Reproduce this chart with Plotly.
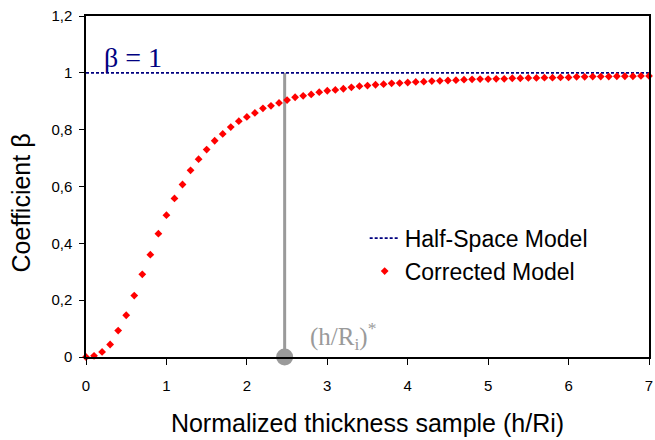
import plotly.graph_objects as go

# ---- data ----
h_ratio = [0.0, 0.1, 0.2, 0.3, 0.4, 0.5, 0.6, 0.7, 0.8, 0.9,
           1.0, 1.1, 1.2, 1.3, 1.4, 1.5, 1.6, 1.7, 1.8, 1.9,
           2.0, 2.1, 2.2, 2.3, 2.4, 2.5, 2.6, 2.7, 2.8, 2.9,
           3.0, 3.1, 3.2, 3.3, 3.4, 3.5, 3.6, 3.7, 3.8, 3.9,
           4.0, 4.1, 4.2, 4.3, 4.4, 4.5, 4.6, 4.7, 4.8, 4.9,
           5.0, 5.1, 5.2, 5.3, 5.4, 5.5, 5.6, 5.7, 5.8, 5.9,
           6.0, 6.1, 6.2, 6.3, 6.4, 6.5, 6.6, 6.7, 6.8, 6.9, 7.0]
beta_corrected = [0.000, 0.004, 0.018, 0.044, 0.093, 0.147, 0.216, 0.291, 0.360, 0.434,
                  0.499, 0.558, 0.607, 0.657, 0.696, 0.730, 0.761, 0.785, 0.809, 0.830,
                  0.845, 0.859, 0.875, 0.884, 0.894, 0.904, 0.914, 0.919, 0.924, 0.932,
                  0.937, 0.940, 0.944, 0.949, 0.953, 0.955, 0.958, 0.960, 0.963, 0.964,
                  0.966, 0.968, 0.969, 0.971, 0.972, 0.973, 0.974, 0.976, 0.977, 0.978,
                  0.978, 0.979, 0.979, 0.981, 0.981, 0.982, 0.982, 0.983, 0.983, 0.984,
                  0.984, 0.986, 0.986, 0.987, 0.987, 0.987, 0.988, 0.988, 0.988, 0.989, 0.989]
half_space_x = [0, 7]
half_space_y = [1, 1]
critical_x = [2.47, 2.47]
critical_y = [0, 1.0]

x_ticks = [0, 1, 2, 3, 4, 5, 6, 7]
x_ticklabels = ["0", "1", "2", "3", "4", "5", "6", "7"]
y_ticks = [0, 0.2, 0.4, 0.6, 0.8, 1.0, 1.2]
y_ticklabels = ["0", "0,2", "0,4", "0,6", "0,8", "1", "1,2"]

SANS = "Liberation Sans, Arial, sans-serif"
SERIF = "Liberation Serif, Times New Roman, serif"

fig = go.Figure()

# critical thickness marker (grey stem + dot)
fig.add_trace(go.Scatter(
    x=critical_x, y=critical_y, mode="lines",
    line=dict(color="#9a9a9a", width=3), showlegend=False, hoverinfo="skip"))
fig.add_trace(go.Scatter(
    x=critical_x[:1], y=critical_y[:1], mode="markers",
    marker=dict(color="#9a9a9a", size=17, symbol="circle"),
    showlegend=False, hoverinfo="skip", cliponaxis=False))

fig.add_trace(go.Scatter(
    x=half_space_x, y=half_space_y, mode="lines", name="Half-Space Model",
    line=dict(color="#000080", width=1.6, dash="3px,2px"),
    legendgroup="a"))
fig.add_trace(go.Scatter(
    x=h_ratio, y=beta_corrected, mode="markers", name="Corrected Model",
    marker=dict(color="#ff0000", size=6, symbol="diamond"),
    cliponaxis=False, legendgroup="b"))

fig.update_layout(
    width=655, height=440,
    margin=dict(l=86, r=2, t=16, b=83),
    plot_bgcolor="white", paper_bgcolor="white",
    font=dict(family=SANS, color="black", size=15),
    showlegend=True,
    legend=dict(x=0.495, y=0.30, xanchor="left", yanchor="middle",
                bgcolor="rgba(0,0,0,0)", font=dict(size=23, family=SANS),
                tracegroupgap=0, itemwidth=30),
    xaxis=dict(range=[0, 7], tickvals=x_ticks, ticktext=x_ticklabels,
               showgrid=False, zeroline=False, showline=True, linecolor="black",
               linewidth=1.5, mirror=True, ticks="outside", ticklen=6, tickwidth=1,
               tickcolor="black", ticklabelstandoff=8, ticklabeloverflow="allow",
               tickfont=dict(size=15, family=SANS),
               title=dict(text="Normalized thickness sample (h/Ri)",
                          font=dict(size=25, family=SANS), standoff=22)),
    yaxis=dict(range=[0, 1.2], tickvals=y_ticks, ticktext=y_ticklabels,
               showgrid=False, zeroline=False, showline=True, linecolor="black",
               linewidth=1.5, mirror=True, ticks="outside", ticklen=5, tickwidth=1,
               tickcolor="black", ticklabelstandoff=4,
               tickfont=dict(size=15, family=SANS)),
    annotations=[
        dict(text="Coefficient β", xref="paper", yref="paper",
             x=(21 - 86) / 567, y=(357 - 203) / 341, textangle=-90,
             xanchor="center", yanchor="middle", showarrow=False,
             font=dict(size=25, family=SANS, color="black")),
        dict(text="β = 1", xref="x", yref="y", x=0.2, y=1.0,
             xanchor="left", yanchor="bottom", showarrow=False, yshift=-2,
             font=dict(size=28, family=SERIF, color="#000080")),
        dict(text="(h/R<sub>i</sub>)<sup>*</sup>", xref="x", yref="y",
             x=2.76, y=0.005, xanchor="left", yanchor="bottom", showarrow=False,
             font=dict(size=25, family=SERIF, color="#9a9a9a")),
    ],
)

fig.write_html("out.html", config={"displayModeBar": False},
               post_script="document.body.style.margin='0';document.body.style.padding='0';")
